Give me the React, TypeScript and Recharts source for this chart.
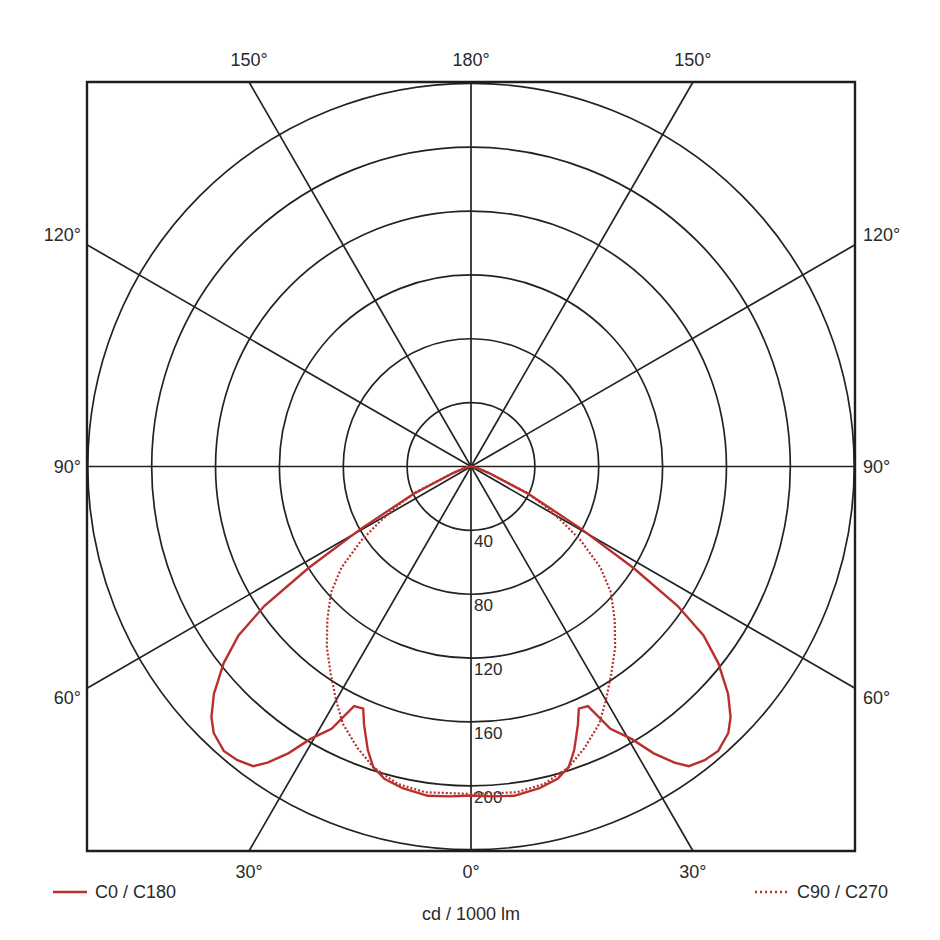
import {
  ScatterChart,
  Scatter,
  XAxis,
  YAxis,
  ReferenceLine,
  ReferenceArea,
  RadarChart,
  PolarGrid,
  PolarAngleAxis,
  PolarRadiusAxis,
} from "recharts";

// luminous intensity, cd / 1000 lm, by gamma angle (0 = straight down)
const gammaC0 = [0, 3.5, 7.5, 12, 15.5, 18, 20, 22.5, 24, 26, 28, 30.5, 32.5, 34.5, 36, 38.5, 41, 44, 46, 48.5, 51.5, 54, 56, 58, 60.5, 64.5, 70, 75, 80, 90];
const valuesC0 = [206, 207, 208, 206, 203, 198, 189, 175, 166, 167, 186, 198, 213, 225, 232, 235, 236, 232, 226, 215, 198, 180, 156, 120, 79, 40, 12, 5, 2, 0];

const gammaC90 = [0, 3.5, 8, 13, 18, 22, 26.5, 30, 34, 38.5, 43, 48, 52, 56, 59, 62, 65, 70, 75, 80, 90];
const valuesC90 = [205, 205, 206, 204, 198, 190, 180, 169, 157, 145, 132, 118, 103, 83, 66, 52, 38, 12, 5, 2, 0];

const rayAngles = [0, 30, 60, 90, 120, 150];
const xTicks = [-139, 0, 139];
const bottomLabels = ["30°", "0°", "30°"];
const topLabels = ["150°", "180°", "150°"];
const yTicks = [145, 0, -145];
const sideLabels = ["120°", "90°", "60°"];

const RED = "#b8302e";
const INK = "#222";
const TEXT = "#2a2a2a";
const FONT = "'Liberation Sans', Arial, sans-serif";
const XR = 240.5;
const YR = 240.8;
const RAD = Math.PI / 180;

// C0 drawn to the right, C180 mirrored to the left
function toPoints(angles: number[], values: number[]) {
  const right = angles.map((g, i) => ({
    x: values[i] * Math.sin(g * RAD),
    y: -values[i] * Math.cos(g * RAD),
  }));
  const left = right.map((p) => ({ x: -p.x, y: p.y })).reverse();
  return [...left, ...right];
}

const c0Points = toPoints(gammaC0, valuesC0);
const c90Points = toPoints(gammaC90, valuesC90);

const rays = rayAngles.map((a) => {
  const s = Math.sin(a * RAD);
  const c = Math.cos(a * RAD);
  const t = Math.min(Math.abs(s) > 1e-9 ? XR / Math.abs(s) : Infinity, Math.abs(c) > 1e-9 ? YR / Math.abs(c) : Infinity);
  return [
    { x: t * s, y: -t * c },
    { x: -t * s, y: t * c },
  ];
});

const radarData = rayAngles.map((a) => ({ angle: a }));

const tickStyle = { fill: TEXT, fontSize: 18, fontFamily: FONT };

const RingTick = (props: any) => {
  const { x, y, payload } = props;
  if (payload.value === 0 || payload.value === 240) return <g />;
  return (
    <text x={x + 3} y={y + 17} fill={TEXT} fontSize={17} fontFamily={FONT}>
      {payload.value}
    </text>
  );
};

function Sample({ dashed }: { dashed?: boolean }) {
  return (
    <svg width={34} height={6}>
      <line x1={0} y1={3} x2={34} y2={3} stroke={RED} strokeWidth={2.4} strokeDasharray={dashed ? "2 3" : undefined} />
    </svg>
  );
}

export default function App() {
  return (
    <div style={{ position: "relative", width: 924, height: 924, fontFamily: FONT }}>
      <div style={{ position: "absolute", left: 0, top: 0 }}>
        <RadarChart
          width={924}
          height={924}
          data={radarData}
          cx={463}
          cy={458.5}
          outerRadius={383.2}
          margin={{ top: 0, right: 0, bottom: 0, left: 0 }}
        >
          <PolarGrid gridType="circle" radialLines={false} stroke={INK} strokeWidth={1.7} />
          <PolarAngleAxis dataKey="angle" tick={false} axisLine={false} />
          <PolarRadiusAxis
            type="number"
            domain={[0, 240]}
            allowDataOverflow
            tickCount={7}
            angle={-90}
            axisLine={false}
            tick={RingTick}
          />
        </RadarChart>
      </div>

      <div style={{ position: "absolute", left: 0, top: 0 }}>
        <ScatterChart width={924} height={924} margin={{ top: 34, right: 27, bottom: 41, left: 29 }}>
          <XAxis
            xAxisId="b"
            type="number"
            dataKey="x"
            domain={[-XR, XR]}
            allowDataOverflow
            ticks={xTicks}
            interval={0}
            tickFormatter={(v: number) => bottomLabels[xTicks.indexOf(v)] ?? ""}
            axisLine={false}
            tickLine={false}
            tickSize={0}
            tickMargin={14}
            height={40}
            tick={tickStyle}
            label={{ value: "cd / 1000 lm", position: "bottom", offset: 16, fill: TEXT, fontSize: 18, fontFamily: FONT }}
          />
          <XAxis
            xAxisId="t"
            orientation="top"
            type="number"
            dataKey="x"
            domain={[-XR, XR]}
            allowDataOverflow
            ticks={xTicks}
            interval={0}
            tickFormatter={(v: number) => topLabels[xTicks.indexOf(v)] ?? ""}
            axisLine={false}
            tickLine={false}
            tickSize={0}
            tickMargin={16}
            height={40}
            tick={tickStyle}
          />
          <YAxis
            yAxisId="l"
            type="number"
            dataKey="y"
            domain={[-YR, YR]}
            allowDataOverflow
            ticks={yTicks}
            interval={0}
            tickFormatter={(v: number) => sideLabels[yTicks.indexOf(v)] ?? ""}
            axisLine={false}
            tickLine={false}
            tickSize={0}
            tickMargin={6}
            width={50}
            tick={tickStyle}
          />
          <YAxis
            yAxisId="r"
            orientation="right"
            type="number"
            dataKey="y"
            domain={[-YR, YR]}
            allowDataOverflow
            ticks={yTicks}
            interval={0}
            tickFormatter={(v: number) => sideLabels[yTicks.indexOf(v)] ?? ""}
            axisLine={false}
            tickLine={false}
            tickSize={0}
            tickMargin={8}
            width={50}
            tick={tickStyle}
          />

          {rays.map((seg, i) => (
            <ReferenceLine
              key={i}
              xAxisId="b"
              yAxisId="l"
              segment={seg}
              stroke={INK}
              strokeWidth={1.7}
              ifOverflow="visible"
            />
          ))}
          <ReferenceArea
            xAxisId="b"
            yAxisId="l"
            x1={-XR}
            x2={XR}
            y1={-YR}
            y2={YR}
            fill="none"
            stroke="#1e1e1e"
            strokeWidth={2.4}
            fillOpacity={0}
            strokeOpacity={1}
            ifOverflow="visible"
          />

          <Scatter
            name="C90 / C270"
            xAxisId="b"
            yAxisId="l"
            data={c90Points}
            line={{ stroke: RED, strokeWidth: 2.2, strokeDasharray: "2 2" }}
            shape={() => <g />}
            isAnimationActive={false}
          />
          <Scatter
            name="C0 / C180"
            xAxisId="b"
            yAxisId="l"
            data={c0Points}
            line={{ stroke: RED, strokeWidth: 2.4 }}
            shape={() => <g />}
            isAnimationActive={false}
          />
        </ScatterChart>
      </div>

      <div style={{ position: "absolute", left: 45, top: 873, height: 22, display: "flex", alignItems: "center", color: TEXT, fontSize: 18 }}>
        <Sample />
        <span style={{ marginLeft: 8 }}>C0 / C180</span>
      </div>
      <div style={{ position: "absolute", left: 747, top: 873, height: 22, display: "flex", alignItems: "center", color: TEXT, fontSize: 18 }}>
        <Sample dashed />
        <span style={{ marginLeft: 8 }}>C90 / C270</span>
      </div>
    </div>
  );
}
